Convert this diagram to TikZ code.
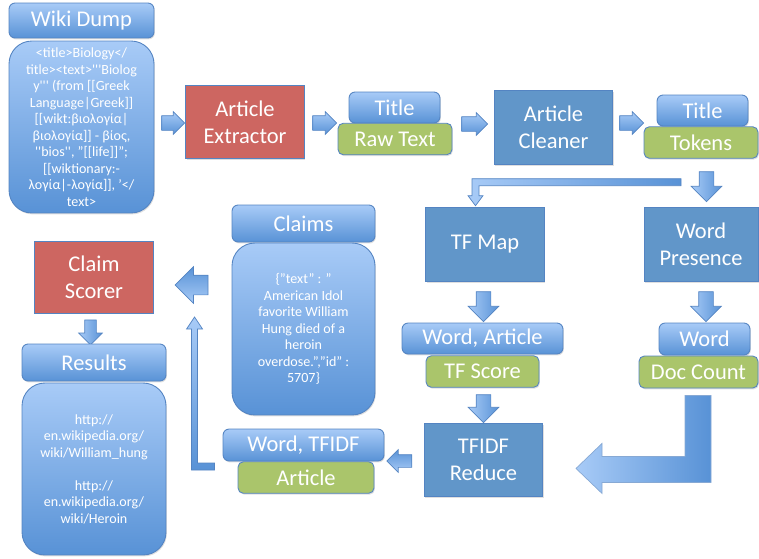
\documentclass[tikz,border=0pt]{standalone}
\usepackage{fontspec}
\setmainfont{Carlito}
\usetikzlibrary{shapes.arrows,shadows,positioning,calc}
\definecolor{bl}{RGB}{168,203,247}
\definecolor{bd}{RGB}{88,146,214}
\definecolor{bx}{RGB}{97,150,201}
\definecolor{rd}{RGB}{205,102,97}
\definecolor{gr}{RGB}{170,197,107}
\definecolor{ln}{RGB}{84,132,194}
\newcommand\boxfont{\fontsize{12.8}{15.5}\selectfont}
\newcommand\bodyfont{\fontsize{8}{9.4}\selectfont}
\newcommand\sq{\textquotesingle}

\begin{document}
\begin{tikzpicture}[x=0.02cm, y=-0.02cm,
    shd/.style={drop shadow={opacity=0.25, shadow xshift=0.5pt, shadow yshift=-0.8pt}},
    hdr/.style={rectangle, rounded corners=3.5pt, draw=ln, line width=0.5pt, top color=bl, bottom color=bd, text=white, font=\boxfont, inner sep=0pt, shd},
    body/.style={hdr, rounded corners=13pt, font=\bodyfont, align=center},
    proc/.style={rectangle, draw=ln, line width=0.5pt, fill=#1, text=white, font=\boxfont, align=center, inner sep=0pt, minimum width=2.37cm, minimum height=1.47cm, shd},
    tag/.style={rectangle, rounded corners=3pt, draw=ln, line width=0.5pt, fill=gr, text=white, font=\boxfont, inner sep=0pt, minimum height=0.63cm, shd},
    % block arrows: {length}{half shaft}{head extend}
    harr/.style n args={3}{single arrow, draw=ln, line width=0.4pt, top color=bl, bottom color=bd, inner xsep=0pt, inner ysep=#2, minimum height=#1, single arrow head extend=#3},
    varr/.style n args={3}{harr={#1}{#2}{#3}, rotate=270, left color=bl, right color=bd},
    larr/.style n args={3}{harr={#1}{#2}{#3}, rotate=180, top color=bd, bottom color=bl},
]
\useasboundingbox (0,0) rectangle (759,558);

% === Wiki dump and extraction ===
\node[hdr, minimum width=2.9cm, minimum height=0.7cm] (wd) at (81.5,20.5) {Wiki Dump};
\node[body, minimum width=2.9cm, minimum height=3.44cm] (wdb) at (81.5,127) {<title>Biology</\\
title><text>\sq\sq\sq Biolog\\
y\sq\sq\sq{} (from [[Greek\\
Language|Greek]]\\
{}[[wikt:βιολογία|\\
βιολογία]] - βίος,\\
\sq\sq bios\sq\sq, "[[life]]";\\
{}[[wiktionary:-\\
λογία|-λογία]], ’</\\
text>};
\node[harr={0.46cm}{0.14cm}{0.08cm}] (a1) at (169.5,123) {};
\node[proc=rd] (ae) at (245,122) {Article\\Extractor};
\node[harr={0.48cm}{0.14cm}{0.08cm}] (a2) at (321,123) {};
\node[hdr, minimum width=1.82cm, minimum height=0.62cm] (t1) at (394.5,107.5) {Title};
\node[tag, minimum width=2.28cm] (rt) at (395,139) {Raw Text};
\node[harr={0.52cm}{0.14cm}{0.08cm}] (a3) at (471,124) {};

% === Cleaning ===
\node[proc=bx] (ac) at (553.5,127.5) {Article\\Cleaner};
\node[harr={0.48cm}{0.14cm}{0.08cm}] (a4) at (628,123) {};
\node[hdr, minimum width=1.82cm, minimum height=0.62cm] (t2) at (702.5,110.5) {Title};
\node[tag, minimum width=2.28cm] (tk) at (701,142.5) {Tokens};
\node[varr={0.6cm}{0.14cm}{0.16cm}] (a5) at (706.5,183) {};
\coordinate (ta) at ($(tk.south)+(-20,23.5)$);
\path[draw=ln, line width=0.4pt, left color=bl, middle color=bd, right color=bd]
  (ta) ++(0,-3.5) -- ++(-209,0) -- ++(0,17) -- ++(-4,0) -- ++(7.5,10) -- ++(7.5,-10)
  -- ++(-4,0) -- ++(0,-10) -- ++(202,0) -- cycle;

% === TF branch ===
\node[proc=bx] (tf) at (485,244.5) {TF Map};
\node[varr={0.6cm}{0.14cm}{0.16cm}] (a6) at (483.5,303) {};
\node[hdr, minimum width=3.22cm, minimum height=0.62cm] (wa) at (482.5,338.5) {Word, Article};
\node[tag, minimum width=2.26cm] (ts) at (482.5,371.5) {TF Score};
\node[varr={0.56cm}{0.14cm}{0.16cm}] (a8) at (483.5,405) {};
\node[proc=bx] (tr) at (483.5,460) {TFIDF\\Reduce};

% === Document frequency branch ===
\node[proc=bx, minimum width=2.28cm] (wp) at (701,244.5) {Word\\Presence};
\node[varr={0.6cm}{0.14cm}{0.16cm}] (a7) at (706,303) {};
\node[hdr, minimum width=1.82cm, minimum height=0.64cm] (w) at (704.5,339) {Word};
\node[tag, minimum width=2.38cm, minimum height=0.64cm] (dc) at (698.5,372) {Doc Count};
\coordinate (ba) at ($(dc.south)+(0,7)$);
\path[draw=ln!70, line width=0.4pt, left color=bl, right color=bd]
  (ba) ++(-13.5,0) -- ++(26,0) -- ++(0,87) -- ++(-109,0) -- ++(0,11) -- ++(-26,-25)
  -- ++(26,-25) -- ++(0,13) -- ++(83,0) -- cycle;

% === TFIDF output ===
\node[larr={0.5cm}{0.12cm}{0.1cm}] (a9) at (402.5,461) {};
\node[hdr, minimum width=3.22cm, minimum height=0.64cm] (wt) at (303.5,445) {Word, TFIDF};
\node[tag, minimum width=2.72cm] (ar) at (306,477.5) {Article};
\coordinate (la) at ($(wt.west)+(-8,21.5)$);
\path[draw=ln, line width=0.4pt, top color=bl, bottom color=bd]
  (la) ++(0,-3.5) -- ++(-17,0) -- ++(0,-134) -- ++(5,0) -- ++(-8,-12) -- ++(-8,12)
  -- ++(5,0) -- ++(0,141) -- ++(23,0) -- cycle;

% === Claims and scoring ===
\node[hdr, minimum width=2.86cm, minimum height=0.74cm] (ch) at (303.5,223.5) {Claims};
\node[body, minimum width=2.86cm, minimum height=3.44cm] (cb) at (303.5,329) {\{"text" : "\\
American Idol\\
favorite William\\
Hung died of a\\
heroin\\
overdose.","id" :\\
5707\}};
\node[larr={0.66cm}{0.19cm}{0.17cm}] (a10) at (196.5,285) {};
\node[proc=rd, minimum height=1.44cm] (cs) at (94,277) {Claim\\Scorer};
\node[varr={0.5cm}{0.11cm}{0.12cm}] (a11) at (90.5,329.5) {};
\node[hdr, minimum width=2.88cm, minimum height=0.74cm] (rh) at (94,362.5) {Results};
\node[body, minimum width=2.88cm, minimum height=3.44cm] (rb) at (94,469) {http://\\
en.wikipedia.org/\\
wiki/William\_hung\\[9.4pt]
http://\\
en.wikipedia.org/\\
wiki/Heroin};

\end{tikzpicture}
\end{document}
